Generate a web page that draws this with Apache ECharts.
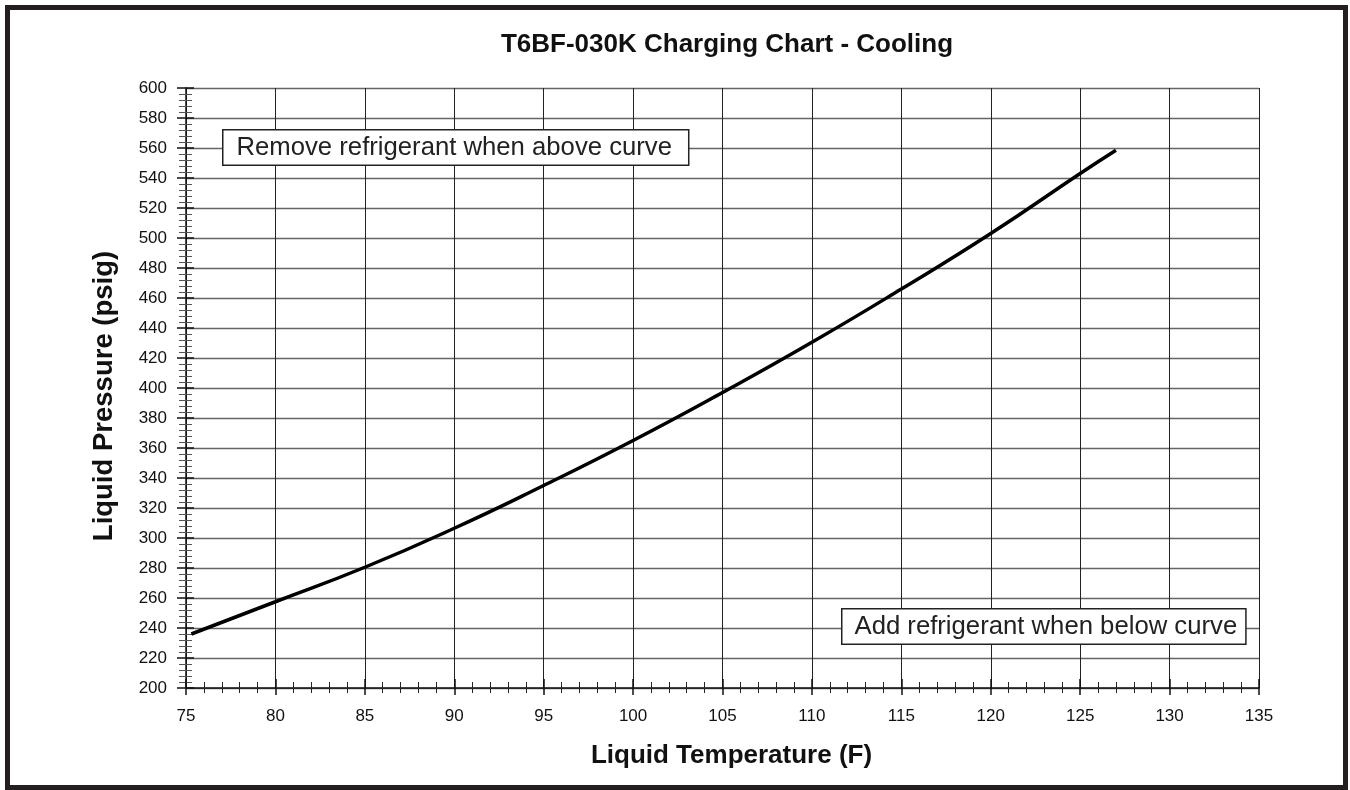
<!DOCTYPE html>
<html>
<head>
<meta charset="utf-8">
<script src="https://cdn.jsdelivr.net/npm/echarts@6/dist/echarts.min.js"></script>
<style>html,body{margin:0;padding:0;background:#fff}#c{width:1350px;height:790px}</style>
</head>
<body>
<div id="c"></div>
<script>
const titleText = 'T6BF-030K Charging Chart - Cooling';
const xName = 'Liquid Temperature (F)';
const yName = 'Liquid Pressure (psig)';
const noteAbove = 'Remove refrigerant when above curve';
const noteBelow = 'Add refrigerant when below curve';
const temps = [75.3, 80, 85, 90, 95, 100, 105, 110, 115, 120, 125, 127];
const pressures = [236, 257.5, 280.5, 306.5, 335, 365, 397, 430.5, 466, 503, 543, 558.5];
const xMin = 75, xMax = 135, xStep = 5;
const yMin = 200, yMax = 600, yStep = 20;

const FONT = '"Liberation Sans", Arial, Helvetica, sans-serif';
const chart = echarts.init(document.getElementById('c'), null, {renderer: 'canvas'});

const xBase = {type: 'value', min: xMin, max: xMax, interval: xStep, position: 'bottom'};
const yBase = {type: 'value', min: yMin, max: yMax, interval: yStep, position: 'left'};

chart.setOption({
  animation: false,
  backgroundColor: '#fff',
  title: {
    text: titleText, left: 722, top: 27, textAlign: 'center',
    textStyle: {fontFamily: FONT, fontWeight: 'bold', fontSize: 26, color: '#111'}
  },
  grid: {left: 186, right: 91, top: 88, bottom: 102, containLabel: false},
  xAxis: [
    Object.assign({}, xBase, {
      name: xName, nameLocation: 'middle', nameGap: 55,
      nameTextStyle: {fontFamily: FONT, fontWeight: 'bold', fontSize: 26, color: '#111', padding: [0, 0, 0, 18]},
      axisLine: {show: true, onZero: false, lineStyle: {color: '#111', width: 1.5}},
      axisTick: {show: true, inside: false, length: 7, lineStyle: {color: '#111', width: 1.5}},
      minorTick: {show: true, splitNumber: 5, length: 5, lineStyle: {color: '#222', width: 1}},
      axisLabel: {margin: 20, fontFamily: FONT, fontSize: 17, color: '#111'},
      splitLine: {show: true, lineStyle: {color: '#222', width: 1}},
      minorSplitLine: {show: false}
    }),
    Object.assign({}, xBase, {
      axisLine: {show: false, onZero: false},
      axisTick: {show: true, inside: true, length: 9, lineStyle: {color: '#111', width: 1.5}},
      minorTick: {show: true, splitNumber: 5, length: 6, lineStyle: {color: '#222', width: 1}},
      axisLabel: {show: false},
      splitLine: {show: false}
    })
  ],
  yAxis: [
    Object.assign({}, yBase, {
      name: yName, nameLocation: 'middle', nameGap: 68, nameRotate: 90,
      nameTextStyle: {fontFamily: FONT, fontWeight: 'bold', fontSize: 27.5, color: '#111', padding: [0, 16, 0, 0]},
      axisLine: {show: true, onZero: false, lineStyle: {color: '#111', width: 1.5}},
      axisTick: {show: true, inside: false, length: 9, lineStyle: {color: '#111', width: 1.5}},
      minorTick: {show: true, splitNumber: 5, length: 7, lineStyle: {color: '#555', width: 1}},
      axisLabel: {margin: 19, fontFamily: FONT, fontSize: 17, color: '#111'},
      splitLine: {show: true, lineStyle: {color: '#666', width: 1.3}},
      minorSplitLine: {show: false}
    }),
    Object.assign({}, yBase, {
      axisLine: {show: false, onZero: false},
      axisTick: {show: true, inside: true, length: 8, lineStyle: {color: '#111', width: 1.5}},
      minorTick: {show: true, splitNumber: 5, length: 6, lineStyle: {color: '#555', width: 1}},
      axisLabel: {show: false},
      splitLine: {show: false}
    })
  ],
  series: [{
    type: 'line',
    xAxisIndex: 0, yAxisIndex: 0,
    data: temps.map((t, i) => [t, pressures[i]]),
    smooth: true,
    showSymbol: false,
    symbol: 'none',
    lineStyle: {color: '#000', width: 3.5, cap: 'butt'},
    z: 5
  }],
  graphic: [
    {
      type: 'rect', silent: true, z: 100,
      shape: {x: 7.5, y: 7.5, width: 1338, height: 780},
      style: {fill: 'none', stroke: '#231f20', lineWidth: 5}
    },
    {
      type: 'text', z: 50, left: 222, top: 129,
      style: {
        text: noteAbove, font: '25.7px ' + FONT, fill: '#222',
        backgroundColor: '#fff', borderColor: '#222', borderWidth: 1.5,
        padding: [4, 16, 4, 13]
      }
    },
    {
      type: 'text', z: 50, left: 841, top: 608,
      style: {
        text: noteBelow, font: '25.7px ' + FONT, fill: '#222',
        backgroundColor: '#fff', borderColor: '#222', borderWidth: 1.5,
        padding: [4, 8, 4, 12]
      }
    }
  ]
});
</script>
</body>
</html>
